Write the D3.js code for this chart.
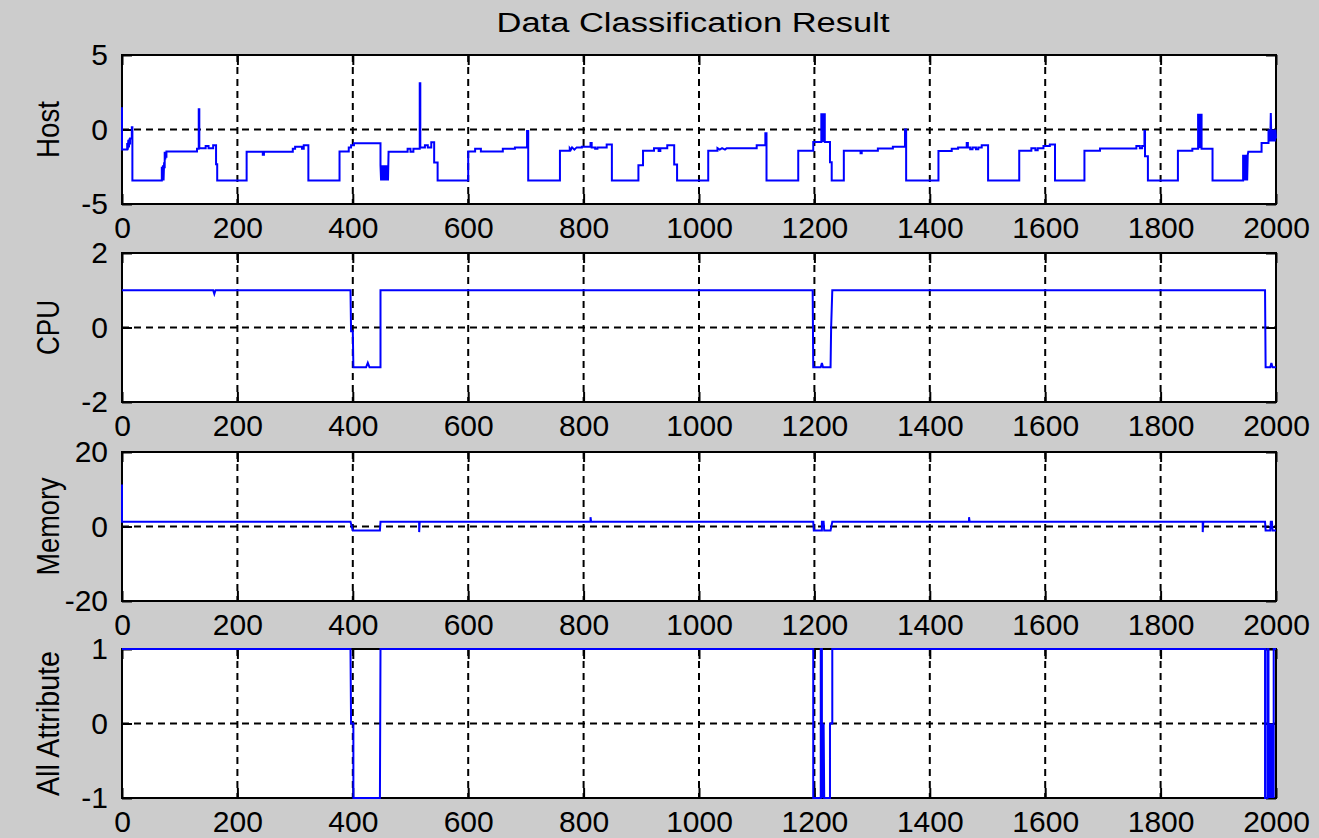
<!DOCTYPE html>
<html>
<head>
<meta charset="utf-8">
<script src="https://cdn.jsdelivr.net/npm/d3@7"></script>
<style>
  html, body { margin: 0; padding: 0; background: #cccccc; }
  svg { display: block; }
  text { font-family: "Liberation Sans", Arial, sans-serif; fill: #000; }
</style>
</head>
<body>
<svg id="fig" width="1319" height="838"></svg>
<script>
// ---- data: sample index vs. value, as polyline vertices ----
const chartTitle = "Data Classification Result";
const panelLabels = ["Host", "CPU", "Memory", "All Attribute"];
const xTicks = [0, 200, 400, 600, 800, 1000, 1200, 1400, 1600, 1800, 2000];
const hostTicks = [-5, 0, 5];
const cpuTicks = [-2, 0, 2];
const memoryTicks = [-20, 0, 20];
const allAttrTicks = [-1, 0, 1];

const hostSeries = [
  [0,1.5],[0,-1.35],[9,-1.35],[9,-0.9],[10,-1.35],[11,-0.7],[12,-1.2],[13,-0.6],[14,-1.0],[14,-0.6],[17,-0.6],[17,0.15],[18,0.15],[18,-3.42],
  [69,-3.42],[69,-2.5],[70,-3.42],[71,-2.4],[72,-3.42],[73,-2.2],[74,-2.6],[74,-1.5],[75,-2.0],[76,-1.5],[77,-1.9],[77,-1.47],
  [130,-1.47],[130,-1.3],[133,-1.3],[133,1.36],[134,1.36],[134,-1.25],[145,-1.25],[145,-1.1],[150,-1.1],[150,-1.25],[158,-1.25],[158,-1.05],[163,-1.05],[163,-2.33],[165,-2.33],[165,-3.42],
  [216,-3.42],[216,-1.5],[244,-1.5],[244,-1.7],[246,-1.7],[246,-1.5],[296,-1.5],[296,-1.3],[300,-1.3],[300,-1.15],[312,-1.15],[312,-1.3],[315,-1.3],[315,-1.05],[323,-1.05],[323,-3.42],
  [377,-3.42],[377,-1.47],[393,-1.47],[393,-1.2],[397,-1.2],[397,-1.05],[402,-1.05],[402,-0.93],[448,-0.93],
  [448,-2.4],[449,-3.42],[450,-2.4],[451,-3.42],[452,-2.4],[453,-3.42],[454,-2.4],[455,-3.42],[456,-2.4],[457,-3.42],[458,-2.4],[459,-3.42],[460,-2.4],[461,-3.42],[462,-1.5],
  [495,-1.5],[495,-1.3],[500,-1.3],[500,-1.5],[505,-1.5],[505,-1.3],[516,-1.3],[516,3.1],[517,3.1],[517,-1.2],[525,-1.2],[525,-1.05],[530,-1.05],[530,-1.2],[536,-1.2],[536,-0.86],[541,-0.86],[541,-2.22],[547,-2.22],[547,-3.42],
  [600,-3.42],[600,-1.47],[612,-1.47],[612,-1.3],[622,-1.3],[622,-1.47],[660,-1.47],[660,-1.3],[681,-1.3],[681,-1.2],[702,-1.2],[702,-0.1],[704,-0.1],[704,-3.42],
  [759,-3.42],[759,-1.43],[776,-1.43],[776,-1.25],[778,-1.35],[780,-1.2],[784,-1.35],[788,-1.2],[797,-1.2],[797,-1.15],[812,-1.15],[812,-0.9],[814,-0.9],[814,-1.2],[820,-1.2],[820,-1.3],[824,-1.3],[824,-1.2],[840,-1.2],[840,-1.0],[849,-1.0],[849,-3.42],
  [895,-3.42],[895,-2.4],[903,-2.4],[903,-1.43],[922,-1.43],[922,-1.25],[930,-1.25],[930,-1.45],[933,-1.45],[933,-1.25],[945,-1.25],[945,-1.05],[957,-1.05],[957,-2.35],[962,-2.35],[962,-3.42],
  [1016,-3.42],[1016,-1.43],[1032,-1.43],[1032,-1.25],[1036,-1.35],[1040,-1.25],[1045,-1.35],[1048,-1.25],[1100,-1.25],[1100,-1.05],[1115,-1.05],[1115,-0.25],[1117,-0.25],[1117,-3.42],
  [1172,-3.42],[1172,-1.43],[1198,-1.43],[1198,-0.84],[1212,-0.84],[1212,1.09],[1213,-0.84],[1214,1.09],[1215,-0.84],[1216,1.09],[1217,-0.84],[1218,1.09],[1218,-0.84],[1227,-0.84],[1227,-2.2],[1230,-2.2],[1230,-3.42],
  [1251,-3.42],[1251,-1.43],[1280,-1.43],[1280,-1.6],[1282,-1.6],[1282,-1.43],[1310,-1.43],[1310,-1.28],[1336,-1.28],[1336,-1.15],[1357,-1.15],[1357,0],[1359,0],[1359,-3.42],
  [1415,-3.42],[1415,-1.45],[1438,-1.45],[1438,-1.3],[1449,-1.3],[1449,-1.2],[1464,-1.2],[1464,-0.9],[1466,-0.9],[1466,-1.2],[1470,-1.2],[1470,-1.32],[1474,-1.32],[1474,-1.2],[1480,-1.2],[1480,-1.32],[1484,-1.32],[1484,-1.2],[1490,-1.2],[1490,-1.05],[1501,-1.05],[1501,-3.42],
  [1555,-3.42],[1555,-1.43],[1576,-1.43],[1576,-1.25],[1583,-1.25],[1583,-1.4],[1587,-1.4],[1587,-1.25],[1597,-1.25],[1597,-1.1],[1608,-1.1],[1608,-1.0],[1617,-1.0],[1617,-3.42],
  [1668,-3.42],[1668,-1.43],[1695,-1.43],[1695,-1.28],[1758,-1.28],[1758,-1.1],[1764,-1.1],[1764,-1.25],[1768,-1.25],[1768,-1.1],[1772,-1.1],[1772,-0.1],[1773,-0.1],[1773,-1.8],[1778,-1.8],[1778,-3.42],
  [1830,-3.42],[1830,-1.43],[1855,-1.43],[1855,-1.3],[1865,-1.3],[1865,1.05],[1866,-1.25],[1867,1.05],[1868,-1.25],[1869,1.05],[1870,-1.25],[1871,1.05],[1871,-1.3],[1890,-1.3],[1890,-3.42],
  [1943,-3.42],[1943,-1.7],[1944,-3.42],[1945,-1.7],[1946,-3.42],[1947,-1.7],[1948,-3.42],[1949,-1.7],[1950,-3.42],[1951,-1.7],[1952,-1.5],
  [1975,-1.5],[1975,-0.9],[1987,-0.9],[1987,0],[1988,-0.8],[1989,0],[1990,-0.8],[1991,1.1],[1992,-0.8],[1993,0],[1994,-0.8],[1995,0],[1996,-0.8],[1997,0],[1998,-0.8],[1999,0],[2000,-0.6]
];

const cpuSeries = [
  [0,1],[158,1],[160,0.9],[162,1],[396,1],[397,-0.1],[400,-0.1],[401,-1.07],[423,-1.07],[426,-0.95],[429,-1.07],[448,-1.07],[448,1],
  [1197,1],[1198,-1.07],[1211,-1.07],[1213,-0.95],[1215,-1.07],[1228,-1.07],[1229,0],[1231,1],
  [1981,1],[1982,-1.07],[1990,-1.07],[1992,-0.95],[1994,-1.07],[2000,-1.07]
];

const memorySeries = [
  [0,11.3],[0,1.3],[396,1.3],[400,-1.1],[447,-1.1],[448,1.3],[515,1.3],[515,-1.5],[516,1.3],[812,1.3],[812,2.5],[813,1.3],
  [1198,1.3],[1199,-1.1],[1213,-1.1],[1213,1.3],[1216,1.3],[1217,-1.1],[1228,-1.1],[1231,1.3],
  [1468,1.3],[1468,2.5],[1469,1.3],[1873,1.3],[1873,-1.5],[1874,1.3],
  [1981,1.3],[1982,-1.1],[1990,-1.1],[1991,1.3],[1993,1.3],[1994,-1.1],[2000,-1.1]
];

const allAttrSeries = [
  [0,1],[396,1],[397,0],[401,0],[401,-1],[447,-1],[448,1],
  [1198,1],[1198,-1],[1211,-1],[1211,1],[1213,1],[1213,-1],[1214,0],[1215,-1],[1216,0],[1217,-1],[1227,-1],[1227,0],[1231,0],[1231,1],
  [1981,1],[1981,-1],[1985,-1],[1985,1],[1987,1],[1987,0],[1988,-1],[1989,0],[1990,-1],[1991,0],[1992,-1],[1993,0],[1994,-1],[1995,0],[1996,-1],[1996,1],[2000,1]
];

// ---- layout ----
const svg = d3.select("#fig");
const plotLeft = 122, plotRight = 1276;
const panelTops = [55, 253, 452, 649];
const panelH = 149;
const tickLen = 10;
const fmt = d => String(d); // plain hyphen-minus, as in the figure

const panels = [
  { label: panelLabels[0], data: hostSeries, ticks: hostTicks },
  { label: panelLabels[1], data: cpuSeries, ticks: cpuTicks },
  { label: panelLabels[2], data: memorySeries, ticks: memoryTicks },
  { label: panelLabels[3], data: allAttrSeries, ticks: allAttrTicks }
];

const x = d3.scaleLinear().domain([0, 2000]).range([plotLeft, plotRight]);

svg.append("text")
  .attr("x", 693)
  .attr("y", 32)
  .attr("text-anchor", "middle")
  .attr("font-size", 27)
  .attr("textLength", 393)
  .attr("lengthAdjust", "spacingAndGlyphs")
  .text(chartTitle);

panels.forEach((p, i) => {
  const top = panelTops[i], bottom = top + panelH;
  const y = d3.scaleLinear().domain(d3.extent(p.ticks)).range([bottom, top]);
  const g = svg.append("g");

  g.append("rect")
    .attr("x", plotLeft).attr("y", top)
    .attr("width", plotRight - plotLeft).attr("height", panelH)
    .attr("fill", "#ffffff");

  const clipId = "clip" + i;
  svg.append("clipPath").attr("id", clipId)
    .append("rect")
    .attr("x", plotLeft - 2).attr("y", top - 2)
    .attr("width", plotRight - plotLeft + 4).attr("height", panelH + 4);

  // dashed grid
  g.selectAll(".vgrid").data(xTicks.filter(t => t > 0 && t < 2000)).enter()
    .append("line")
    .attr("x1", d => x(d)).attr("x2", d => x(d))
    .attr("y1", top).attr("y2", bottom)
    .attr("stroke", "#000").attr("stroke-width", 2)
    .attr("stroke-dasharray", "7,5");
  g.selectAll(".hgrid").data(p.ticks.filter(t => t !== p.ticks[0] && t !== p.ticks[p.ticks.length - 1])).enter()
    .append("line")
    .attr("x1", plotLeft).attr("x2", plotRight)
    .attr("y1", d => y(d)).attr("y2", d => y(d))
    .attr("stroke", "#000").attr("stroke-width", 2)
    .attr("stroke-dasharray", "7,5");

  // box and inward ticks
  g.append("rect")
    .attr("x", plotLeft).attr("y", top)
    .attr("width", plotRight - plotLeft).attr("height", panelH)
    .attr("fill", "none").attr("stroke", "#000").attr("stroke-width", 2);

  const xb = d3.axisBottom(x).tickValues(xTicks).tickSizeInner(-tickLen).tickSizeOuter(0).tickPadding(0).tickFormat(fmt);
  const ax = g.append("g").attr("transform", `translate(0,${bottom})`).call(xb);
  ax.select(".domain").remove();
  ax.selectAll(".tick line").attr("stroke", "#000").attr("stroke-width", 2);
  ax.selectAll(".tick text")
    .attr("y", 34).attr("dy", 0)
    .attr("font-size", 30)
    .attr("font-family", "Liberation Sans, Arial, sans-serif")
    .attr("fill", "#000");

  const xt = d3.axisTop(x).tickValues(xTicks).tickSizeInner(-tickLen).tickSizeOuter(0).tickFormat("");
  const axt = g.append("g").attr("transform", `translate(0,${top})`).call(xt);
  axt.select(".domain").remove();
  axt.selectAll(".tick line").attr("stroke", "#000").attr("stroke-width", 2);

  const yl = d3.axisLeft(y).tickValues(p.ticks).tickSizeInner(-tickLen).tickSizeOuter(0).tickPadding(14).tickFormat(fmt);
  const ay = g.append("g").attr("transform", `translate(${plotLeft},0)`).call(yl);
  ay.select(".domain").remove();
  ay.selectAll(".tick line").attr("stroke", "#000").attr("stroke-width", 2);
  ay.selectAll(".tick text")
    .attr("x", -14)
    .attr("font-size", 30)
    .attr("font-family", "Liberation Sans, Arial, sans-serif")
    .attr("fill", "#000");

  const yr = d3.axisRight(y).tickValues(p.ticks).tickSizeInner(-tickLen).tickSizeOuter(0).tickFormat("");
  const ayr = g.append("g").attr("transform", `translate(${plotRight},0)`).call(yr);
  ayr.select(".domain").remove();
  ayr.selectAll(".tick line").attr("stroke", "#000").attr("stroke-width", 2);

  // series, drawn over the axes box
  const line = d3.line().x(d => x(d[0])).y(d => y(d[1]));
  g.append("path")
    .datum(p.data)
    .attr("clip-path", `url(#${clipId})`)
    .attr("d", line)
    .attr("fill", "none")
    .attr("stroke", "#0000ff")
    .attr("stroke-width", 2)
    .attr("stroke-linejoin", "miter");

  // rotated panel label
  const labelLen = { "Host": 57, "CPU": 55, "Memory": 98, "All Attribute": 145 }[p.label];
  svg.append("text")
    .attr("transform", `translate(59,${(top + bottom) / 2}) rotate(-90)`)
    .attr("text-anchor", "middle")
    .attr("font-size", 31)
    .attr("textLength", labelLen)
    .attr("lengthAdjust", "spacingAndGlyphs")
    .text(p.label);
});
</script>
</body>
</html>
